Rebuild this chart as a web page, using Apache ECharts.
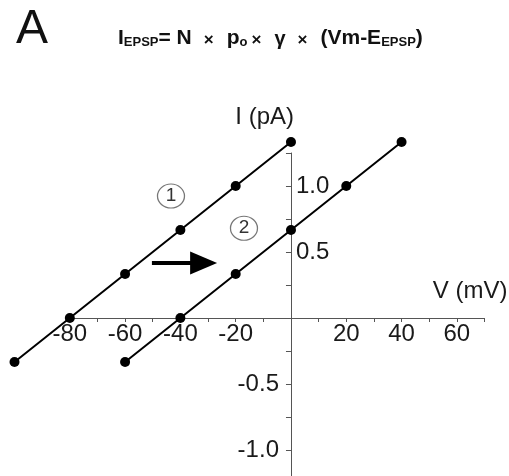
<!DOCTYPE html>
<html>
<head>
<meta charset="utf-8">
<script src="https://cdn.jsdelivr.net/npm/echarts@6/dist/echarts.min.js"></script>
<style>
  html, body { margin: 0; padding: 0; background: #fff; }
  #chart { width: 509px; height: 476px; }
</style>
</head>
<body>
<div id="chart"></div>
<script>
// I-V relation, two conditions (V in mV, I in pA)
const curve1 = [[-100, -0.333], [-80, 0], [-60, 0.333], [-40, 0.667], [-20, 1.0], [0, 1.333]];
const curve2 = [[-60, -0.333], [-40, 0], [-20, 0.333], [0, 0.667], [20, 1.0], [40, 1.333]];
// annotation anchors in data space
const label1Pos = [-43.4, 0.924];
const label2Pos = [-17, 0.68];
const arrowFrom = [-50.3, 0.417];
const arrowTo = [-31.6, 0.417];

const W = 509, H = 476;
const xMin = -80, xMax = 70;   // drawn axis
const dataXMin = -100;         // data reaches past the drawn axis
const yMin = -1.25, yMax = 1.25;
const grid = { left: 69.8, right: 24.5, top: 153, bottom: -7 };

// echarts 6 keeps labels at the grid edge with onZero, so shift the axes to the origin with offset
const gridW = W - grid.left - grid.right;
const gridH = H - grid.top - grid.bottom;
const pxPerX = gridW / (xMax - xMin);
const yAxisShift = -((0 - xMin) / (xMax - xMin)) * gridW;
const xAxisShift = -((0 - yMin) / (yMax - yMin)) * gridH;
// second grid, same scale, wide enough for all data (series live here)
const dataGridLeft = grid.left - (xMin - dataXMin) * pxPerX;

const chart = echarts.init(document.getElementById("chart"));
const textColor = "#1a1a1a";
const axisColor = "#555";
const font = "Liberation Sans, Arial, sans-serif";

const lineSeries = (name, data) => ({
  name: name,
  type: "line",
  xAxisIndex: 1,
  yAxisIndex: 2,
  data: data,
  clip: false,
  symbol: "circle",
  symbolSize: 10,
  showAllSymbol: true,
  lineStyle: { color: "#000", width: 2 },
  itemStyle: { color: "#000" },
  z: 5,
});

const circleLabel = (text, pos) => ({
  name: text,
  coord: pos,
  symbol: "circle",
  symbolSize: [27, 24],
  itemStyle: { color: "#fff", borderColor: "#777", borderWidth: 1.2 },
  label: {
    show: true,
    formatter: text,
    color: "#333",
    fontSize: 19,
    fontFamily: font,
  },
});

const halfStep = (v) => Math.abs(v * 2 - Math.round(v * 2)) < 1e-6;

const option = {
  animation: false,
  textStyle: { fontFamily: font },
  title: [
    {
      text: "A",
      left: 11,
      top: 1,
      textStyle: { fontSize: 48, fontWeight: "normal", color: "#111", fontFamily: font },
    },
    {
      text: "{m|I}{s|EPSP}{m|= N}{x|×}{m|p}{s|o}{y|×}{g|γ}{x|×}{m|(Vm-E}{s|EPSP}{m|)}",
      left: 113,
      top: 20,
      textStyle: {
        rich: {
          m: { fontSize: 21, fontWeight: "bold", color: "#111", lineHeight: 24, fontFamily: font, verticalAlign: "bottom" },
          s: { fontSize: 13, fontWeight: "bold", color: "#111", lineHeight: 12, fontFamily: font, verticalAlign: "bottom" },
          x: { fontSize: 17, color: "#111", lineHeight: 22, fontFamily: font, verticalAlign: "bottom", padding: [0, 13, 0, 12] },
          y: { fontSize: 17, color: "#111", lineHeight: 22, fontFamily: font, verticalAlign: "bottom", padding: [0, 13, 0, 4] },
          g: { fontSize: 20, color: "#111", lineHeight: 22, fontFamily: font, verticalAlign: "bottom" },
        },
      },
    },
  ],
  grid: [
    {
      left: grid.left,
      right: grid.right,
      top: grid.top,
      bottom: grid.bottom,
      containLabel: false,
      outerBoundsMode: "none",
    },
    {
      left: dataGridLeft,
      right: grid.right,
      top: grid.top,
      bottom: grid.bottom,
      containLabel: false,
      outerBoundsMode: "none",
    },
  ],
  xAxis: [
    {
      type: "value",
      gridIndex: 0,
      position: "bottom",
      offset: xAxisShift,
      min: xMin,
      max: xMax,
      interval: 10,
      name: "V (mV)",
      nameLocation: "end",
      nameGap: 23,
      nameTextStyle: {
        fontSize: 24,
        color: textColor,
        align: "right",
        verticalAlign: "bottom",
        padding: [0, 0, 15, 0],
      },
      splitLine: { show: false },
      axisLine: { onZero: false, lineStyle: { color: axisColor, width: 1 } },
      axisTick: { show: true, inside: false, length: 4, lineStyle: { color: axisColor } },
      axisLabel: {
        color: textColor,
        fontSize: 24,
        margin: 4,
        formatter: (v) => (v % 20 === 0 && v !== 0 ? String(v) : ""),
      },
    },
    {
      type: "value",
      gridIndex: 1,
      min: dataXMin,
      max: xMax,
      show: false,
    },
  ],
  yAxis: [
    {
      type: "value",
      gridIndex: 0,
      position: "left",
      offset: yAxisShift,
      min: yMin,
      max: yMax,
      interval: 0.25,
      name: "I (pA)",
      nameLocation: "end",
      nameGap: 24,
      nameTextStyle: {
        fontSize: 24,
        color: textColor,
        align: "right",
        verticalAlign: "bottom",
        padding: [0, -3, 0, 0],
      },
      splitLine: { show: false },
      axisLine: { onZero: false, lineStyle: { color: axisColor, width: 1 } },
      axisTick: { show: true, inside: false, length: 5, lineStyle: { color: axisColor } },
      axisLabel: {
        inside: true,
        color: textColor,
        fontSize: 24,
        margin: 5,
        formatter: (v) => (v > 0 && halfStep(v) ? v.toFixed(1) : ""),
      },
    },
    {
      type: "value",
      gridIndex: 0,
      position: "left",
      offset: yAxisShift,
      min: yMin,
      max: yMax,
      interval: 0.25,
      splitLine: { show: false },
      axisLine: { show: false, onZero: false },
      axisTick: { show: false },
      axisLabel: {
        color: textColor,
        fontSize: 24,
        margin: 12,
        formatter: (v) => (v < 0 && halfStep(v) ? v.toFixed(1) : ""),
      },
    },
    {
      type: "value",
      gridIndex: 1,
      min: yMin,
      max: yMax,
      show: false,
    },
  ],
  series: [
    Object.assign(lineSeries("1", curve1), {
      markPoint: {
        data: [circleLabel("1", label1Pos), circleLabel("2", label2Pos)],
      },
      markLine: {
        silent: true,
        symbol: ["none", "triangle"],
        symbolSize: [23, 27],
        label: { show: false },
        lineStyle: { color: "#000", width: 4, type: "solid" },
        data: [[{ coord: arrowFrom }, { coord: arrowTo }]],
      },
    }),
    lineSeries("2", curve2),
  ],
};

chart.setOption(option);
</script>
</body>
</html>
